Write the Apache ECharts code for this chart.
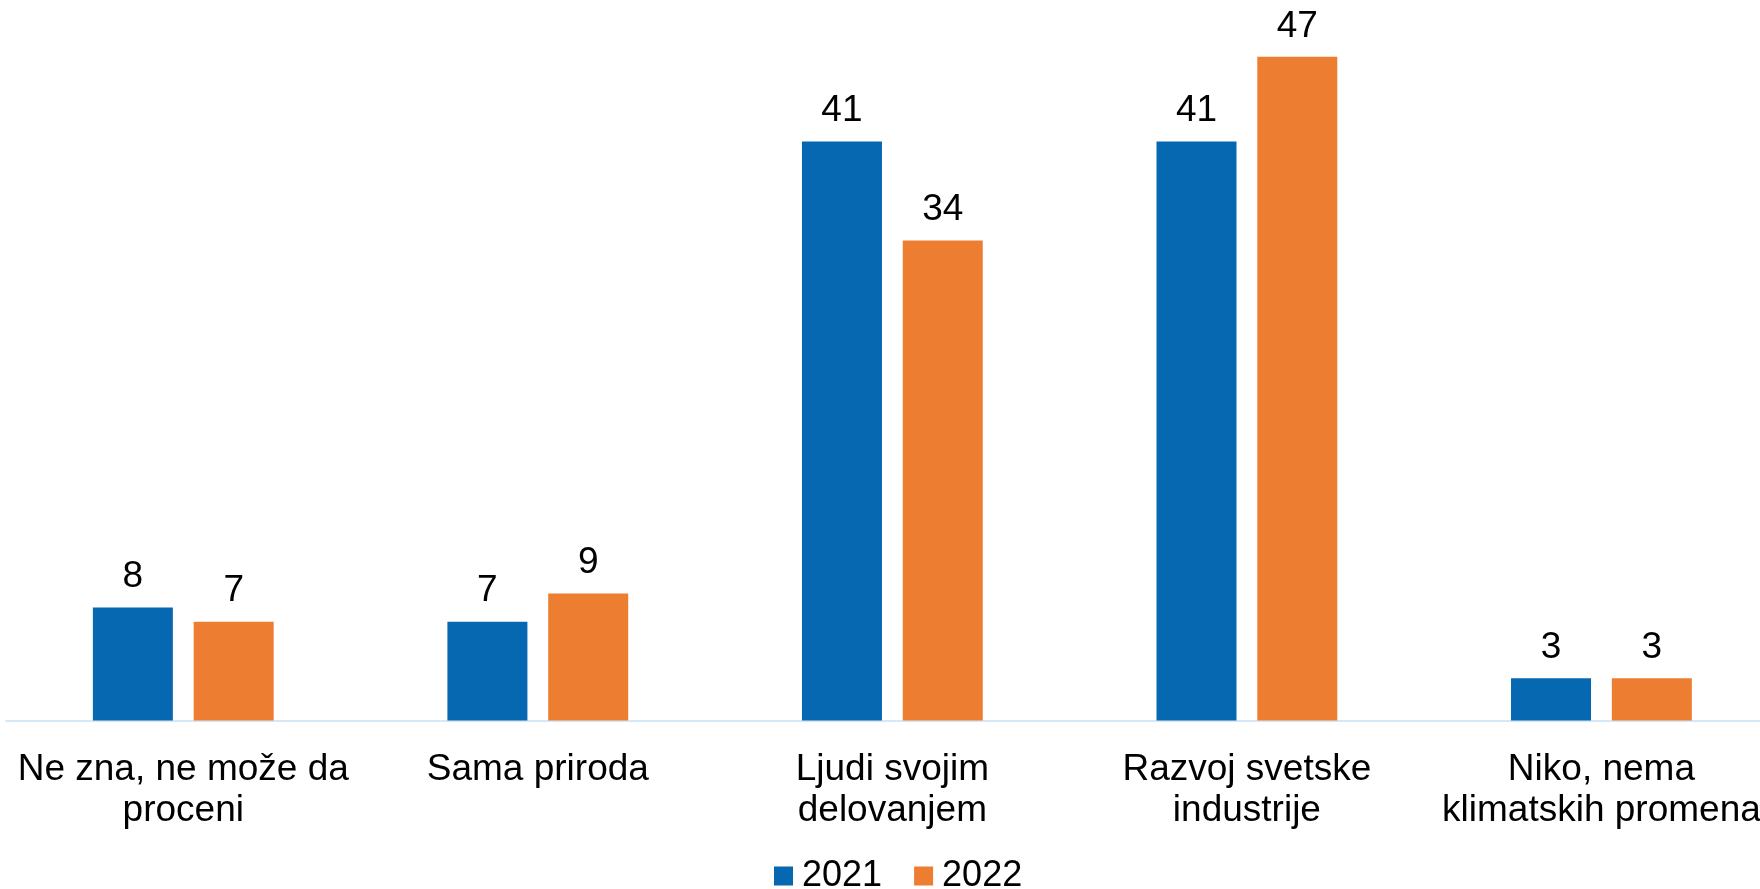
<!DOCTYPE html>
<html>
<head>
<meta charset="utf-8">
<script src="https://cdn.jsdelivr.net/npm/echarts@6/dist/echarts.min.js"></script>
<style>
html,body{margin:0;padding:0;background:#fff;}
#c{width:1760px;height:889px;}
</style>
</head>
<body>
<div id="c"></div>
<script>
const categories = [
  "Ne zna, ne može da\nproceni",
  "Sama priroda",
  "Ljudi svojim\ndelovanjem",
  "Razvoj svetske\nindustrije",
  "Niko, nema\nklimatskih promena"
];
const seriesNames = ["2021", "2022"];
const values2021 = [8, 7, 41, 41, 3];
const values2022 = [7, 9, 34, 47, 3];

const FONT = "'Liberation Sans', Arial, sans-serif";
const chart = echarts.init(document.getElementById('c'), null, {renderer: 'canvas'});
const labelCfg = {
  show: true, position: 'top', distance: 12,
  fontSize: 37, color: '#000', fontFamily: FONT
};
chart.setOption({
  animation: false,
  backgroundColor: '#ffffff',
  grid: {left: 6, width: 1772.7, top: 14.5, bottom: 168.5, containLabel: false, outerBoundsMode: 'none'},
  legend: {
    data: seriesNames,
    left: 774, top: 858, padding: 0,
    icon: 'rect', itemWidth: 19, itemHeight: 19, itemGap: 32,
    textStyle: {fontSize: 36, color: '#000', fontFamily: FONT, padding: [0,0,0,4]}
  },
  xAxis: {
    type: 'category',
    data: categories,
    axisLine: {show: true, lineStyle: {color: '#d6e8f8', width: 2}},
    axisTick: {show: false},
    axisLabel: {interval: 0, margin: 29, fontSize: 37, lineHeight: 41, color: '#000', fontFamily: FONT}
  },
  yAxis: {
    type: 'value', min: 0, max: 50,
    show: false,
    splitLine: {show: false}
  },
  series: [
    {name: seriesNames[0], type: 'bar', data: values2021, barWidth: 80, barGap: '26%',
     itemStyle: {color: '#0568b1'}, label: labelCfg},
    {name: seriesNames[1], type: 'bar', data: values2022, barWidth: 80, barGap: '26%',
     itemStyle: {color: '#ed7d31'}, label: labelCfg}
  ]
});
</script>
</body>
</html>
